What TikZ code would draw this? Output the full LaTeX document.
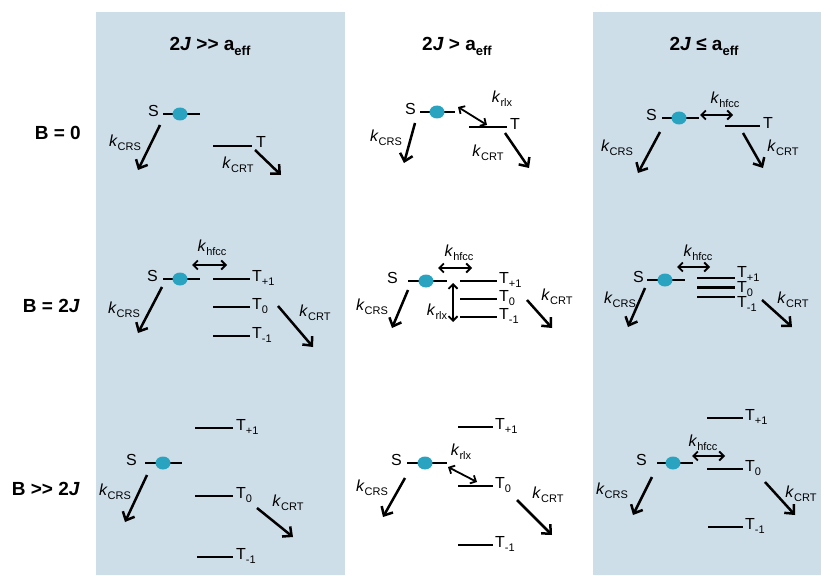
\documentclass[tikz,border=0pt]{standalone}
\usepackage{fontspec}
\setmainfont{Liberation Sans}
\usetikzlibrary{arrows.meta,shapes.geometric}
\definecolor{panelblue}{RGB}{206,222,233}
\definecolor{spinteal}{RGB}{41,163,191}
% lowered subscripts for rate constants and triplet sublevels
\newcommand\subl[1]{\raisebox{-0.45ex}{\fontsize{11}{11}\selectfont #1}}
\newcommand\rk[1]{\textit{k}\subl{#1}}
\newcommand\hsub[1]{\raisebox{-0.45ex}{\fontsize{13}{13}\selectfont\bfseries #1}}
% two separate > signs (no guillemet ligature)
\newcommand\twogt{>\kern0pt>}
% energy level: name, x start, x end, y
\newcommand\lev[4]{\node[lvl, minimum width={#3pt-#2pt}] (#1) at ({(#2+#3)/2},#4) {};}
\begin{document}
\begin{tikzpicture}[x=1pt,y=-1pt,
  lvl/.style={fill=black, inner sep=0pt, outer sep=0pt, minimum height=2.9pt},
  spin/.style={ellipse, fill=spinteal, inner sep=0pt, minimum width=15pt, minimum height=13pt},
  rate/.style={line width=2.5pt, -{Straight Barb[length=7pt,width=13pt]}},
  mix/.style={line width=1.8pt, {Straight Barb[length=4.5pt,width=9pt]}-{Straight Barb[length=4.5pt,width=9pt]}},
  lab/.style={inner sep=0pt, font=\fontsize{16}{18}\selectfont},
  head/.style={inner sep=0pt, anchor=mid, font=\bfseries\fontsize{19}{22}\selectfont}]
\useasboundingbox (0,0) rectangle (821,575);
% background columns
\fill[panelblue] (96,12) rectangle (345,575);
\fill[panelblue] (593,12) rectangle (821,575);
% column and row headings
\node[head] (h1) at (210,48) {2\textit{J} \twogt{} a\hsub{eff}};
\node[head] (h2) at (457,48) {2\textit{J} > a\hsub{eff}};
\node[head] (h3) at (704,48) {2\textit{J} ≤ a\hsub{eff}};
\node[head, anchor=mid east] (b0) at (81,137) {B = 0};
\node[head, anchor=mid east] (b2) at (80,310) {B = 2\textit{J}};
\node[head, anchor=mid east] (bb) at (80,493) {B \twogt{} 2\textit{J}};

% ---------- B = 0 ----------
% column 1
\lev{S11}{163}{200}{114}
\node[spin] (c11) at (180,114) {};
\node[lab, anchor=mid east] (sl11) at (159,114) {S};
\lev{T11}{213}{252}{146}
\node[lab, anchor=mid west] (tl11) at (256,145) {T};
\coordinate (a11) at (160,125); \coordinate (e11) at (138,170);
\draw[rate] (a11) -- (e11);
\node[lab] (kc11) at (125,143) {\rk{CRS}};
\coordinate (f11) at (255,150); \coordinate (g11) at (281,175);
\draw[rate] (f11) -- (g11);
\node[lab] (kt11) at (238,165) {\rk{CRT}};
% column 2
\lev{S12}{420}{455}{112}
\node[spin] (c12) at (437,112) {};
\node[lab, anchor=mid east] (sl12) at (416,112) {S};
\lev{T12}{469}{507}{127}
\node[lab, anchor=mid west] (tl12) at (510,127) {T};
\coordinate (m12a) at (458,107); \coordinate (m12b) at (487,125);
\draw[mix] (m12a) -- (m12b);
\node[lab] (kr12) at (502,99) {\rk{rlx}};
\coordinate (a12) at (415,123); \coordinate (e12) at (404,163);
\draw[rate] (a12) -- (e12);
\node[lab] (kc12) at (386,138) {\rk{CRS}};
\coordinate (f12) at (505,133); \coordinate (g12) at (529,168);
\draw[rate] (f12) -- (g12);
\node[lab] (kt12) at (488,153) {\rk{CRT}};
% column 3
\lev{S13}{662}{699}{118}
\node[spin] (c13) at (679,118) {};
\node[lab, anchor=mid east] (sl13) at (657,118) {S};
\lev{T13}{725}{760}{126}
\node[lab, anchor=mid west] (tl13) at (763,126) {T};
\coordinate (m13a) at (700,115); \coordinate (m13b) at (733,115);
\draw[mix] (m13a) -- (m13b);
\node[lab] (kh13) at (725,100) {\rk{hfcc}};
\coordinate (a13) at (660,132); \coordinate (e13) at (638,173);
\draw[rate] (a13) -- (e13);
\node[lab] (kc13) at (617,148) {\rk{CRS}};
\coordinate (f13) at (743,133); \coordinate (g13) at (763,168);
\draw[rate] (f13) -- (g13);
\node[lab] (kt13) at (783,148) {\rk{CRT}};

% ---------- B = 2J ----------
% column 1
\lev{S21}{163}{200}{279}
\node[spin] (c21) at (180,279) {};
\node[lab, anchor=mid east] (sl21) at (158,279) {S};
\coordinate (m21a) at (192,265); \coordinate (m21b) at (227,265);
\draw[mix] (m21a) -- (m21b);
\node[lab] (kh21) at (212,248) {\rk{hfcc}};
\lev{T21p}{213}{250}{279}
\lev{T21z}{213}{250}{307}
\lev{T21m}{213}{250}{336}
\node[lab, anchor=mid west] (tp21) at (252,279) {T\subl{+1}};
\node[lab, anchor=mid west] (tz21) at (252,307) {T\subl{0}};
\node[lab, anchor=mid west] (tm21) at (252,336) {T\subl{-1}};
\coordinate (a21) at (162,287); \coordinate (e21) at (138,333);
\draw[rate] (a21) -- (e21);
\node[lab] (kc21) at (124,310) {\rk{CRS}};
\coordinate (f21) at (278,306); \coordinate (g21) at (313,347);
\draw[rate] (f21) -- (g21);
\node[lab] (kt21) at (315,313) {\rk{CRT}};
% column 2
\lev{S22}{408}{447}{281}
\node[spin] (c22) at (426,281) {};
\node[lab, anchor=mid east] (sl22) at (398,281) {S};
\coordinate (m22a) at (438,268); \coordinate (m22b) at (472,268);
\draw[mix] (m22a) -- (m22b);
\node[lab] (kh22) at (459,253) {\rk{hfcc}};
\coordinate (v22a) at (453,283); \coordinate (v22b) at (453,322);
\draw[mix] (v22a) -- (v22b);
\node[lab] (kr22) at (437,312) {\rk{rlx}};
\lev{T22p}{460}{497}{281}
\lev{T22z}{460}{497}{299}
\lev{T22m}{460}{497}{317}
\node[lab, anchor=mid west] (tp22) at (499,281) {T\subl{+1}};
\node[lab, anchor=mid west] (tz22) at (499,299) {T\subl{0}};
\node[lab, anchor=mid west] (tm22) at (499,317) {T\subl{-1}};
\coordinate (a22) at (408,290); \coordinate (e22) at (392,328);
\draw[rate] (a22) -- (e22);
\node[lab] (kc22) at (372,307) {\rk{CRS}};
\coordinate (f22) at (527,300); \coordinate (g22) at (552,328);
\draw[rate] (f22) -- (g22);
\node[lab] (kt22) at (557,297) {\rk{CRT}};
% column 3
\lev{S23}{647}{685}{280}
\node[spin] (c23) at (665,280) {};
\node[lab, anchor=mid east] (sl23) at (644,280) {S};
\coordinate (m23a) at (677,267); \coordinate (m23b) at (710,267);
\draw[mix] (m23a) -- (m23b);
\node[lab] (kh23) at (698,253) {\rk{hfcc}};
\lev{T23p}{697}{735}{278}
\lev{T23z}{697}{735}{287.5}
\lev{T23m}{697}{735}{297}
\node[lab, anchor=mid west] (tp23) at (737,275) {T\subl{+1}};
\node[lab, anchor=mid west] (tz23) at (737,290) {T\subl{0}};
\node[lab, anchor=mid west] (tm23) at (737,305) {T\subl{-1}};
\coordinate (a23) at (645,288); \coordinate (e23) at (628,327);
\draw[rate] (a23) -- (e23);
\node[lab] (kc23) at (620,300) {\rk{CRS}};
\coordinate (f23) at (762,300); \coordinate (g23) at (792,327);
\draw[rate] (f23) -- (g23);
\node[lab] (kt23) at (793,300) {\rk{CRT}};

% ---------- B >> 2J ----------
% column 1
\lev{S31}{145}{182}{463}
\node[spin] (c31) at (163,463) {};
\node[lab, anchor=mid east] (sl31) at (137,463) {S};
\lev{T31p}{195}{233}{428}
\lev{T31z}{195}{233}{496}
\lev{T31m}{197}{233}{557}
\node[lab, anchor=mid west] (tp31) at (236,428) {T\subl{+1}};
\node[lab, anchor=mid west] (tz31) at (236,496) {T\subl{0}};
\node[lab, anchor=mid west] (tm31) at (236,557) {T\subl{-1}};
\coordinate (a31) at (147,475); \coordinate (e31) at (125,522);
\draw[rate] (a31) -- (e31);
\node[lab] (kc31) at (115,492) {\rk{CRS}};
\coordinate (f31) at (257,508); \coordinate (g31) at (293,537);
\draw[rate] (f31) -- (g31);
\node[lab] (kt31) at (288,503) {\rk{CRT}};
% column 2
\lev{S32}{407}{447}{463}
\node[spin] (c32) at (425,463) {};
\node[lab, anchor=mid east] (sl32) at (402,463) {S};
\coordinate (m32a) at (448,467); \coordinate (m32b) at (477,482);
\draw[mix] (m32a) -- (m32b);
\node[lab] (kr32) at (461,452) {\rk{rlx}};
\lev{T32p}{458}{493}{427}
\lev{T32z}{458}{493}{486}
\lev{T32m}{458}{493}{545}
\node[lab, anchor=mid west] (tp32) at (495,427) {T\subl{+1}};
\node[lab, anchor=mid west] (tz32) at (495,486) {T\subl{0}};
\node[lab, anchor=mid west] (tm32) at (495,545) {T\subl{-1}};
\coordinate (a32) at (405,478); \coordinate (e32) at (383,517);
\draw[rate] (a32) -- (e32);
\node[lab] (kc32) at (372,488) {\rk{CRS}};
\coordinate (f32) at (517,500); \coordinate (g32) at (552,535);
\draw[rate] (f32) -- (g32);
\node[lab] (kt32) at (548,495) {\rk{CRT}};
% column 3
\lev{S33}{657}{693}{463}
\node[spin] (c33) at (673,463) {};
\node[lab, anchor=mid east] (sl33) at (647,463) {S};
\coordinate (m33a) at (692,456); \coordinate (m33b) at (725,456);
\draw[mix] (m33a) -- (m33b);
\node[lab] (kh33) at (703,443) {\rk{hfcc}};
\lev{T33p}{707}{743}{418}
\lev{T33z}{707}{743}{469}
\lev{T33m}{708}{743}{527}
\node[lab, anchor=mid west] (tp33) at (745,418) {T\subl{+1}};
\node[lab, anchor=mid west] (tz33) at (745,469) {T\subl{0}};
\node[lab, anchor=mid west] (tm33) at (745,527) {T\subl{-1}};
\coordinate (a33) at (652,477); \coordinate (e33) at (633,515);
\draw[rate] (a33) -- (e33);
\node[lab] (kc33) at (612,491) {\rk{CRS}};
\coordinate (f33) at (765,482); \coordinate (g33) at (795,515);
\draw[rate] (f33) -- (g33);
\node[lab] (kt33) at (801,494) {\rk{CRT}};
\end{tikzpicture}
\end{document}
